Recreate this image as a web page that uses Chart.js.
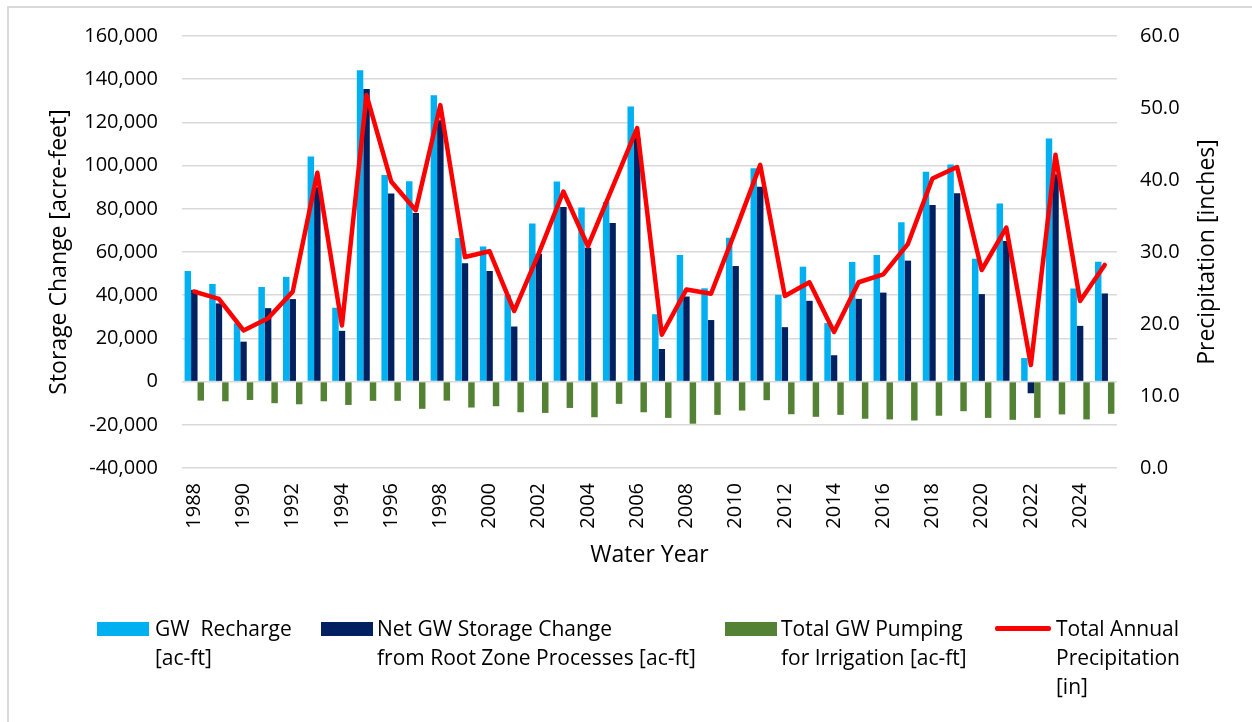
<!DOCTYPE html>
<html>
<head>
<meta charset="utf-8">
<script src="https://cdn.jsdelivr.net/npm/chart.js"></script>
<style>
  body { margin: 0; background: #fff; }
  #wrap { position: relative; width: 1252px; height: 722px; overflow: hidden; font-family: "Open Sans", sans-serif; }
  #frame { position: absolute; left: 7px; top: 6px; width: 1300px; height: 800px; border: 2px solid #d9d9d9; box-sizing: border-box; }
  canvas { position: absolute; left: 0; top: 0; }
  .txt { position: absolute; top: 614px; font-size: 21px; line-height: 29px; color: #000; white-space: nowrap; }
  .sw { position: absolute; }
</style>
</head>
<body>
<div id="wrap">
  <div id="frame"></div>
  <canvas id="chart" width="1252" height="722"></canvas>

  <!-- legend, drawn in html because the labels wrap onto several lines -->
  <div class="sw" style="left:97px;top:622px;width:52px;height:14px;background:#00B0F0"></div>
  <div class="txt" style="left:155px">GW&nbsp; Recharge<br>[ac-ft]</div>
  <div class="sw" style="left:321px;top:622px;width:52px;height:14px;background:#002060"></div>
  <div class="txt" style="left:377px">Net GW Storage Change<br>from Root Zone Processes [ac-ft]</div>
  <div class="sw" style="left:725px;top:622px;width:52px;height:14px;background:#548235"></div>
  <div class="txt" style="left:781px">Total GW Pumping<br>for Irrigation [ac-ft]</div>
  <div class="sw" style="left:995px;top:626px;width:56px;height:5px;background:#FF0000;border-radius:2px"></div>
  <div class="txt" style="left:1056px">Total Annual<br>Precipitation<br>[in]</div>
</div>

<script>
// water years on the x axis
const years = [
  "1988","1989","1990","1991","1992","1993","1994","1995","1996","1997",
  "1998","1999","2000","2001","2002","2003","2004","2005","2006","2007",
  "2008","2009","2010","2011","2012","2013","2014","2015","2016","2017",
  "2018","2019","2020","2021","2022","2023","2024","2025"
];

// ac-ft
const gwRecharge = [
  51200, 45200, 27000, 43800, 48500, 104200, 34200, 144200, 95700, 92800,
  132600, 66500, 62500, 40000, 73200, 92600, 80600, 83200, 127400, 31200,
  58600, 43200, 66600, 98800, 40200, 53200, 27100, 55400, 58600, 73800,
  97200, 100500, 56900, 82500, 10900, 112500, 43100, 55500
];
const netStorageChange = [
  42500, 36200, 18500, 34000, 38200, 90000, 23500, 135500, 87100, 78000,
  121000, 54800, 51200, 25500, 59200, 80800, 62000, 73400, 113000, 15100,
  39400, 28500, 53500, 90200, 25200, 37400, 12200, 38300, 41200, 56000,
  81800, 87200, 40500, 65100, -5400, 96000, 25800, 40800
];
const gwPumping = [
  -8800, -9100, -8500, -10000, -10500, -9100, -10800, -8900, -8900, -12600,
  -8800, -12000, -11400, -14200, -14500, -12200, -16500, -10300, -14200, -16800,
  -19500, -15400, -13400, -8600, -15100, -16300, -15400, -17200, -17500, -18000,
  -15800, -13700, -16800, -17700, -16800, -15200, -17500, -14900
];
// inches
const precipitation = [
  24.5, 23.5, 19.1, 20.8, 24.5, 41.0, 19.8, 51.8, 39.8, 35.8,
  50.4, 29.3, 30.1, 21.8, 29.8, 38.4, 30.8, 39.0, 47.2, 18.5,
  24.8, 24.2, 33.0, 42.1, 23.9, 25.8, 18.9, 25.8, 26.9, 31.1,
  40.2, 41.8, 27.5, 33.4, 14.3, 43.5, 23.2, 28.2
];

const leftRange = [-40000, 160000, 20000];
const rightRange = [0, 60, 10];
const leftTitle = "Storage Change [acre-feet]";
const rightTitle = "Precipitation [inches]";
const xTitle = "Water Year";

Chart.defaults.font.family = '"Open Sans", sans-serif';
Chart.defaults.color = "#000";

const grid = "#d9d9d9";

// chart.js puts a right-hand title reading downwards, the original reads upwards
const rightTitlePlugin = {
  id: "rightTitle",
  afterDraw(chart) {
    const { ctx, chartArea } = chart;
    ctx.save();
    ctx.translate(1207, (chartArea.top + chartArea.bottom) / 2);
    ctx.rotate(-Math.PI / 2);
    ctx.font = '23px "Open Sans"';
    ctx.fillStyle = "#000";
    ctx.textAlign = "center";
    ctx.textBaseline = "middle";
    ctx.fillText(rightTitle, 0, 0);
    ctx.restore();
  }
};

new Chart(document.getElementById("chart"), {
  type: "bar",
  data: {
    labels: years,
    datasets: [
      {
        type: "line",
        label: "Total Annual Precipitation [in]",
        data: precipitation,
        yAxisID: "y1",
        borderColor: "#FF0000",
        borderWidth: 4.5,
        pointRadius: 0,
        tension: 0,
        borderJoinStyle: "round",
        borderCapStyle: "round",
        order: 0
      },
      { label: "GW Recharge [ac-ft]", data: gwRecharge, backgroundColor: "#00B0F0", yAxisID: "y", order: 1 },
      { label: "Net GW Storage Change from Root Zone Processes [ac-ft]", data: netStorageChange, backgroundColor: "#002060", yAxisID: "y", order: 1 },
      { label: "Total GW Pumping for Irrigation [ac-ft]", data: gwPumping, backgroundColor: "#548235", yAxisID: "y", order: 1 }
    ]
  },
  options: {
    responsive: false,
    animation: false,
    datasets: { bar: { categoryPercentage: 0.79, barPercentage: 1.0 } },
    layout: { padding: { left: 0, right: 0, top: 35, bottom: 149 } },
    plugins: {
      legend: { display: false },
      tooltip: { enabled: false }
    },
    scales: {
      x: {
        grid: { display: false, drawTicks: false },
        border: { display: false },
        ticks: {
          autoSkip: false,
          maxRotation: 90,
          minRotation: 90,
          padding: 15,
          font: { size: 20 },
          callback: (v, i) => (i % 2 === 0 ? years[i] : "")
        },
        title: { display: true, text: xTitle, font: { size: 23 }, padding: { top: 4, bottom: 4 } },
        afterFit: s => { s.height = 105; }
      },
      y: {
        position: "left",
        min: leftRange[0],
        max: leftRange[1],
        grid: { color: grid, lineWidth: 1.5, drawTicks: false },
        border: { display: false },
        ticks: {
          stepSize: leftRange[2],
          padding: 24,
          font: { size: 20 },
          callback: v => v.toLocaleString("en-US")
        },
        title: { display: true, text: leftTitle, font: { size: 23 }, padding: { top: 46, bottom: 0 } },
        afterFit: s => { s.width = 182; }
      },
      y1: {
        position: "right",
        min: rightRange[0],
        max: rightRange[1],
        grid: { drawOnChartArea: false, drawTicks: false },
        border: { display: false },
        ticks: {
          stepSize: rightRange[2],
          padding: 23,
          font: { size: 20 },
          callback: v => v.toFixed(1)
        },
        afterFit: s => { s.width = 135; }
      }
    }
  },
  plugins: [rightTitlePlugin]
});
</script>
</body>
</html>
